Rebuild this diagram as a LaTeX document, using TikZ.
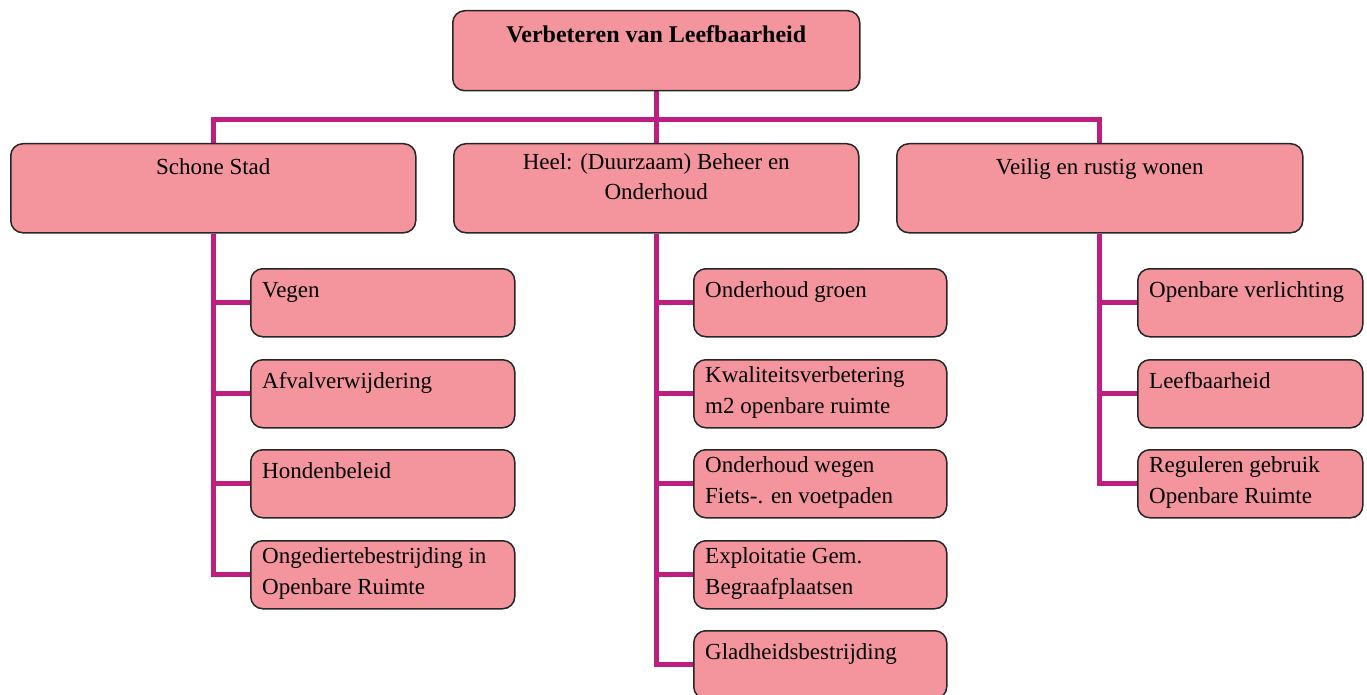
\documentclass[tikz,border=0pt]{standalone}
\usepackage{fontspec}
\setmainfont{Liberation Serif}
\usetikzlibrary{backgrounds}
\definecolor{boxfill}{RGB}{244,149,158}
\definecolor{linkc}{RGB}{190,30,125}
\tikzset{
  pbox/.style={draw=black!85, line width=1.5pt, fill=boxfill, rounded corners=12pt, inner sep=0pt, anchor=north west},
  link/.style={draw=linkc, line width=5pt},
  ltext/.style={anchor=north west, inner sep=0pt, align=left, font=\fontsize{23}{31}\selectfont, execute at begin node=\strut},
  ctext/.style={anchor=north, inner sep=0pt, align=center, font=\fontsize{23}{30}\selectfont, execute at begin node=\strut},
  ttext/.style={anchor=base, inner sep=0pt, font=\fontsize{24}{30}\selectfont\bfseries},
}
\newcommand\mkchild[5]{%
  \node[pbox, minimum width=#4pt, minimum height=68pt] (#1) at (#2,#3) {};
  \begin{scope}
    \clip (#1.north west) rectangle ([yshift=7pt]#1.south east);
    \node[ltext] (#1t) at ([shift={(12pt,-7.3pt)}]#1.north west) {#5};
  \end{scope}}
\begin{document}
\begin{tikzpicture}[x=1pt,y=-1pt]
\useasboundingbox (0,0) rectangle (1367,695);
% top
\node[pbox, minimum width=407pt, minimum height=80pt] (top) at (452,10) {};
\node[ttext] (topt) at ([yshift=-33pt]top.north) {Verbeteren van Leefbaarheid};
% level 2
\node[pbox, minimum width=405pt, minimum height=89pt] (L) at (10,143) {};
\node[ctext] (Lt) at ([yshift=-10pt]L.north) {Schone Stad};
\node[pbox, minimum width=405pt, minimum height=89pt] (M) at (453,143) {};
\node[ctext] (Mt) at ([yshift=-10pt]M.north) {Heel: (Duurzaam) Beheer en\\Onderhoud};
\node[pbox, minimum width=406pt, minimum height=89pt] (R) at (896,143) {};
\node[ctext] (Rt) at ([yshift=-10pt]R.north) {Veilig en rustig wonen};
\coordinate (bus) at (655.5,120);
% children left
\mkchild{L1}{250}{268}{264}{Vegen}
\mkchild{L2}{250}{359}{264}{Afvalverwijdering}
\mkchild{L3}{250}{449}{264}{Hondenbeleid}
\mkchild{L4}{250}{540}{264}{Ongediertebestrijding in\\Openbare Ruimte}
% children middle
\mkchild{M1}{693}{268}{253}{Onderhoud groen}
\mkchild{M2}{693}{359}{253}{Kwaliteitsverbetering\\m2 openbare ruimte}
\mkchild{M3}{693}{449}{253}{Onderhoud wegen\\Fiets-. en voetpaden}
\mkchild{M4}{693}{540}{253}{Exploitatie Gem.\\Begraafplaatsen}
\mkchild{M5}{693}{630}{253}{Gladheidsbestrijding}
% children right
\mkchild{R1}{1137}{268}{225}{Openbare verlichting}
\mkchild{R2}{1137}{359}{225}{Leefbaarheid}
\mkchild{R3}{1137}{449}{225}{Reguleren gebruik\\Openbare Ruimte}
\begin{pgfonlayer}{background}
  \draw[link] (top.south) -- (M.north);
  \draw[link] (L.north) -- (L.north |- bus) -- (R.north |- bus) -- (R.north);
  \foreach \c in {L1,L2,L3,L4} \draw[link] (L.south) |- (\c.west);
  \foreach \c in {M1,M2,M3,M4,M5} \draw[link] (M.south) |- (\c.west);
  \foreach \c in {R1,R2,R3} \draw[link] (R.south) |- (\c.west);
\end{pgfonlayer}
\end{tikzpicture}
\end{document}
